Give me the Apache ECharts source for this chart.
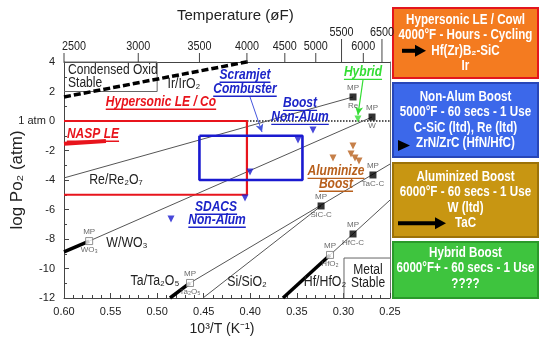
<!DOCTYPE html>
<html><head><meta charset="utf-8">
<script src="https://cdn.jsdelivr.net/npm/echarts@6/dist/echarts.min.js"></script>
<style>html,body{margin:0;padding:0;background:#fff}#c{width:542px;height:339px}</style>
</head><body><div id="c"></div>
<script>
const F = '"Liberation Sans", Arial, sans-serif';

// ---------- axes ----------
const tempTicksF = [2500, 3000, 3500, 4000, 4500, 5000, 5500, 6000, 6500];
const tempTicksRaised = [5500, 6500];

// ---------- equilibrium lines  [10^3/T, log pO2] ----------
const irLine      = [[0.600, 1.63], [0.400, 4.05]];
const reLine      = [[0.600, -3.86], [0.2897, 1.63]];
const wLineThick  = [[0.600, -8.88], [0.573, -8.14]];
const wLine       = [[0.573, -8.14], [0.2693, 0.27]];
const taLineThick = [[0.4862, -12], [0.4647, -10.98]];
const taLine      = [[0.4647, -10.98], [0.25, -2.92]];
const siLine      = [[0.4508, -12], [0.324, -5.76]];
const hfLineThick = [[0.3649, -12], [0.3144, -9.08]];
const hfLine      = [[0.3144, -9.08], [0.25, -5.36]];
const naspLine    = [[0.600, -1.55], [0.555, -1.35]];
const oneAtmLine  = [[0.600, 0], [0.25, 0]];

// ---------- regions ----------
const hypersonicBox = [[0.600, 0], [0.4036, 0], [0.4036, -5], [0.600, -5]];
const scramjetBox   = [[0.4546, -1], [0.344, -1], [0.344, -4], [0.4546, -4], [0.4546, -1]];
const condensedBox  = [[0.600, 4], [0.500, 4], [0.500, 2], [0.600, 2]];
const metalBox      = [[0.2994, -12], [0.2994, -9.29], [0.25, -9.29]];

// ---------- melting points ----------
const mpNames = ['WO₃', 'Ta₂O₅', 'HfO₂', 'SiC-C', 'TaC-C', 'HfC-C', 'Re', 'W'];
const mpX     = [0.573, 0.4647, 0.3144, 0.324, 0.2683, 0.2897, 0.2897, 0.2693];
const mpY     = [-8.14, -10.98, -9.08, -5.76, -3.66, -7.66, 1.63, 0.27];
const mpOpen  = [true, true, true, false, false, false, false, false];

// ---------- test points ----------
const blueTests  = [[0.3327, -0.61], [0.3488, -1.29], [0.4003, -3.46], [0.4057, -5.22], [0.4851, -6.64]];
const brownTests = [[0.2897, -1.69], [0.3112, -2.51], [0.2919, -2.24], [0.2876, -2.51], [0.2833, -2.71]];
const greenTests = [[0.2844, 0.14]];
const scramArrow  = [[0.4003, 1.63], [0.3874, -0.75]];
const hybridArrow = [[0.279, 2.78], [0.2844, 0.41]];

// ---------- labels ----------
const lineLabels = ['Ir/IrO₂', 'Re/Re₂O₇', 'W/WO₃', 'Ta/Ta₂O₅', 'Si/SiO₂', 'Hf/HfO₂'];
const lineLabelX = [0.4712, 0.5442, 0.5324, 0.5023, 0.4035, 0.3198];
const lineLabelY = [2.51, -4.0, -8.27, -10.85, -10.92, -10.92];
const regionLabels = ['Metal\nStable'];
const regionLabelX = [0.2736];
const regionLabelY = [-10.58];
const condLabels = ['Condensed Oxid\nStable'];
const condLabelX = [0.5957];
const condLabelY = [3.0];
const redNotes = ['Hypersonic LE / Co', 'NASP LE'];
const redNoteX = [0.4959, 0.5689];
const redNoteY = [1.29, -0.88];
const blueNotes = ['Scramjet', 'Combuster', 'Boost', 'Non-Alum', 'SDACS', 'Non-Alum'];
const blueNoteX = [0.4057, 0.4057, 0.3466, 0.3466, 0.4368, 0.4357];
const blueNoteY = [3.12, 2.17, 1.22, 0.27, -5.83, -6.71];
const brownNotes = ['Aluminize', 'Boost'];
const brownNoteX = [0.308, 0.308];
const brownNoteY = [-3.39, -4.27];
const greenNotes = ['Hybrid'];
const greenNoteX = [0.279];
const greenNoteY = [3.32];

// ---------- side panels ----------
const panelTitles = ['Hypersonic LE / Cowl', 'Non-Alum Boost', 'Aluminized Boost', 'Hybrid Boost'];
const panelLines = [
  ['4000°F - Hours - Cycling', 'Hf(Zr)B₂-SiC', 'Ir'],
  ['5000°F - 60 secs - 1 Use', 'C-SiC (ltd), Re (ltd)', 'ZrN/ZrC (HfN/HfC)'],
  ['6000°F - 60 secs - 1 Use', 'W (ltd)', 'TaC'],
  ['6000°F+ - 60 secs - 1 Use', '????']
];

// ================= rendering =================
const ctx = document.createElement('canvas').getContext('2d');
function textW(t, font) { ctx.font = font; return ctx.measureText(t).width; }

function lineS(data, color, width, type, z) {
  return { type: 'line', data: data, symbol: 'none', silent: true, clip: false,
    lineStyle: { color: color, width: width, type: type || 'solid', cap: 'butt' }, z: z || 3 };
}

function labelSeries(texts, xs, ys, st) {
  return {
    type: 'custom', coordinateSystem: 'cartesian2d', silent: true, z: st.z || 10,
    data: xs.map((x, i) => [x, ys[i]]),
    renderItem: function (params, api) {
      const p = api.coord([api.value(0), api.value(1)]);
      const font = (st.italic ? 'italic ' : '') + (st.bold ? 'bold ' : '') + st.size + 'px ' + F;
      const lines = texts[params.dataIndex].split('\n');
      const lh = st.lineHeight || st.size * 1.05;
      const total = lh * lines.length;
      const children = [];
      const al = st.align || 'center';
      lines.forEach((ln, k) => {
        const yy = -total / 2 + lh * (k + 0.5);
        children.push({ type: 'text', x: 0, y: yy,
          style: { text: ln, font: font, fill: st.color, align: al, verticalAlign: 'middle',
                   textAlign: al, textVerticalAlign: 'middle' } });
        if (st.underline) {
          const w = textW(ln, font);
          const x1 = al === 'left' ? 0 : -w / 2;
          const uy = yy + st.size * 0.52;
          children.push({ type: 'line', shape: { x1: x1, y1: uy, x2: x1 + w, y2: uy },
            style: { stroke: st.color, lineWidth: 1.3 } });
        }
      });
      return { type: 'group', x: p[0], y: p[1], scaleX: st.scaleX || 1, children: children };
    }
  };
}

const RED = '#e8141c', BLUE = '#1c24c8', BROWN = '#b8601c', GREEN = '#33dd33';

const series = [
  lineS(oneAtmLine, '#222', 1.5, 'dotted', 2),
  lineS(irLine, '#000', 3.5, [7, 3], 4),
  lineS(reLine, '#555', 1, 'solid', 3),
  lineS(wLineThick, '#000', 3.5, 'solid', 4),
  lineS(wLine, '#555', 1, 'solid', 3),
  lineS(taLineThick, '#000', 3.5, 'solid', 4),
  lineS(taLine, '#555', 1, 'solid', 3),
  lineS(siLine, '#555', 1, 'solid', 3),
  lineS(hfLineThick, '#000', 3.5, 'solid', 4),
  lineS(hfLine, '#555', 1, 'solid', 3),
  lineS(condensedBox, '#666', 1, 'solid', 3),
  lineS(metalBox, '#666', 1, 'solid', 3),
  lineS(hypersonicBox, RED, 2.2, 'solid', 5),
  lineS(naspLine, RED, 4, 'solid', 5),
  lineS(scramjetBox, '#1a1ad0', 2.6, 'solid', 5),
  {
    type: 'line', data: [], silent: true,
    markLine: { silent: true, symbol: ['none', 'arrow'], symbolSize: [6, 8], animation: false,
      label: { show: false },
      data: [
        [{ coord: scramArrow[0], lineStyle: { color: '#4455dd', width: 1, type: 'solid' } }, { coord: scramArrow[1] }],
        [{ coord: hybridArrow[0], lineStyle: { color: GREEN, width: 1.2, type: 'solid' } }, { coord: hybridArrow[1] }]
      ] }
  },
  { type: 'scatter', silent: true, z: 8, symbol: 'triangle', symbolRotate: 180, symbolSize: 7,
    itemStyle: { color: '#1a1ad0' }, data: blueTests },
  { type: 'scatter', silent: true, z: 8, symbol: 'triangle', symbolRotate: 180, symbolSize: 7,
    itemStyle: { color: BROWN }, data: brownTests },
  { type: 'scatter', silent: true, z: 8, symbol: 'triangle', symbolRotate: 180, symbolSize: 7,
    itemStyle: { color: GREEN }, data: greenTests },
  { type: 'scatter', silent: true, z: 9, symbol: 'rect', symbolSize: 7,
    data: mpNames.map((n, i) => ({ name: n, value: [mpX[i], mpY[i]],
      itemStyle: mpOpen[i] ? { color: '#fff', borderColor: '#777', borderWidth: 1 } : { color: '#000' } })),
    label: { show: true, position: 'inside', formatter: p => 'MP\n\n' + p.name,
      fontSize: 8, lineHeight: 9, color: '#444', fontFamily: F } },
  labelSeries(lineLabels, lineLabelX, lineLabelY, { size: 14, color: '#222', scaleX: 0.88 }),
  labelSeries(regionLabels, regionLabelX, regionLabelY, { size: 14, color: '#222', scaleX: 0.86, lineHeight: 13 }),
  labelSeries(condLabels, condLabelX, condLabelY, { size: 14, color: '#222', scaleX: 0.86, lineHeight: 13, align: 'left' }),
  labelSeries(redNotes, redNoteX, redNoteY, { size: 14, color: RED, bold: true, italic: true, underline: true, scaleX: 0.86 }),
  labelSeries(blueNotes, blueNoteX, blueNoteY, { size: 14, color: BLUE, bold: true, italic: true, underline: true, scaleX: 0.86 }),
  labelSeries(brownNotes, brownNoteX, brownNoteY, { size: 14, color: BROWN, bold: true, italic: true, underline: true, scaleX: 0.86 }),
  labelSeries(greenNotes, greenNoteX, greenNoteY, { size: 14, color: GREEN, bold: true, italic: true, underline: true, scaleX: 0.86 }),
  {
    type: 'custom', coordinateSystem: 'cartesian2d', xAxisIndex: 1, yAxisIndex: 0, silent: true, z: 10,
    data: tempTicksF.map(f => [Math.min(0.6, 1000 / ((f - 32) * 5 / 9 + 273.15)), 4]),
    renderItem: function (params, api) {
      const f = tempTicksF[params.dataIndex];
      const p = api.coord([api.value(0), api.value(1)]);
      const raised = tempTicksRaised.indexOf(f) >= 0;
      const len = raised ? 23 : 9;
      const atEdge = api.value(0) >= 0.6 - 1e-9;
      const al = atEdge ? 'left' : 'center';
      return { type: 'group', children: [
        { type: 'line', shape: { x1: p[0], y1: p[1], x2: p[0], y2: p[1] - len }, style: { stroke: '#444', lineWidth: 1 } },
        { type: 'text', x: p[0] - (atEdge ? 2 : 0), y: p[1] - len - 6,
          style: { text: String(f), font: '12px ' + F, fill: '#222', align: al, verticalAlign: 'middle',
                   textAlign: al, textVerticalAlign: 'middle' }, scaleX: 0.9 }
      ] };
    }
  }
];

// side panels (graphic)
const panelTop = [8, 83, 163, 242];
const panelH = [70, 74, 74, 56];
const panelFirst = [12, 14, 14, 11];
const panelFill = ['#f47b20', '#3c68ea', '#c89612', '#3ec43e'];
const panelStroke = ['#e3161d', '#2746b8', '#9c7208', '#2a9a2a'];
const graphics = [];
const PX = 393, PW = 145, PC = PX + PW / 2;
panelTitles.forEach((t, i) => {
  graphics.push({ type: 'rect', shape: { x: PX, y: panelTop[i], width: PW, height: panelH[i] },
    style: { fill: panelFill[i], stroke: panelStroke[i], lineWidth: 2 }, z: 1 });
  const all = [t].concat(panelLines[i]);
  all.forEach((ln, k) => {
    graphics.push({ type: 'text', x: PC, y: panelTop[i] + panelFirst[i] + k * 15.4, scaleX: 0.83, z: 2,
      style: { text: ln, font: 'bold 14px ' + F, fill: '#fff', align: 'center', verticalAlign: 'middle',
               textAlign: 'center', textVerticalAlign: 'middle' } });
  });
});
function arrowAt(x0, x1, y) {
  graphics.push({ type: 'rect', shape: { x: x0, y: y - 2, width: x1 - x0 - 9, height: 4 }, style: { fill: '#000' }, z: 3 });
  graphics.push({ type: 'polygon', shape: { points: [[x1 - 11, y - 6], [x1, y], [x1 - 11, y + 6]] }, style: { fill: '#000' }, z: 3 });
}
arrowAt(402, 426, panelTop[0] + panelFirst[0] + 2 * 15.4);
graphics.push({ type: 'polygon', shape: { points: [[398, 140], [410, 145.5], [398, 151]] }, style: { fill: '#000' }, z: 3 });
arrowAt(398, 446, panelTop[2] + panelFirst[2] + 3 * 15.4);

const chart = echarts.init(document.getElementById('c'));
chart.setOption({
  animation: false,
  textStyle: { fontFamily: F },
  title: { text: 'Temperature (øF)', left: 172, top: 3,
    textStyle: { fontSize: 15, fontWeight: 'normal', color: '#222', fontFamily: F } },
  grid: { left: 64, top: 62, width: 326, height: 236, containLabel: false, outerBoundsMode: 'none' },
  xAxis: [
    { type: 'value', position: 'bottom', min: 0.25, max: 0.6, interval: 0.05, inverse: true,
      axisLine: { show: true, onZero: false, lineStyle: { color: '#444' } },
      axisTick: { show: true, inside: true, length: 5, lineStyle: { color: '#444' } },
      minorTick: { show: true, splitNumber: 5, length: 3, lineStyle: { color: '#444' } },
      splitLine: { show: false },
      axisLabel: { formatter: v => v.toFixed(2), fontSize: 11, color: '#222', margin: 8, fontFamily: F },
      name: '10³/T (K⁻¹)', nameLocation: 'middle', nameGap: 24, nameMoveOverlap: false,
      nameTextStyle: { fontSize: 14, color: '#222', fontFamily: F, padding: [0, 10, 0, 0] } },
    { type: 'value', position: 'top', min: 0.25, max: 0.6, inverse: true,
      axisLine: { show: true, onZero: false, lineStyle: { color: '#444' } },
      axisTick: { show: false }, axisLabel: { show: false }, splitLine: { show: false } }
  ],
  yAxis: [
    { type: 'value', min: -12, max: 4, interval: 2,
      axisLine: { show: true, onZero: false, lineStyle: { color: '#444' } },
      axisTick: { show: true, inside: true, length: 5, lineStyle: { color: '#444' } },
      minorTick: { show: true, splitNumber: 2, length: 3, lineStyle: { color: '#444' } },
      splitLine: { show: false },
      axisLabel: { formatter: v => (v === 0 ? '1 atm 0' : String(v)), fontSize: 11, color: '#222', margin: 9, fontFamily: F },
      name: 'log Po₂ (atm)', nameLocation: 'middle', nameGap: 38, nameRotate: 90, nameMoveOverlap: false,
      nameTextStyle: { fontSize: 17, color: '#222', fontFamily: F } },
    { type: 'value', position: 'right', min: -12, max: 4,
      axisLine: { show: true, onZero: false, lineStyle: { color: '#777' } },
      axisTick: { show: false }, axisLabel: { show: false }, splitLine: { show: false } }
  ],
  graphic: graphics,
  series: series
});
</script>
</body></html>
